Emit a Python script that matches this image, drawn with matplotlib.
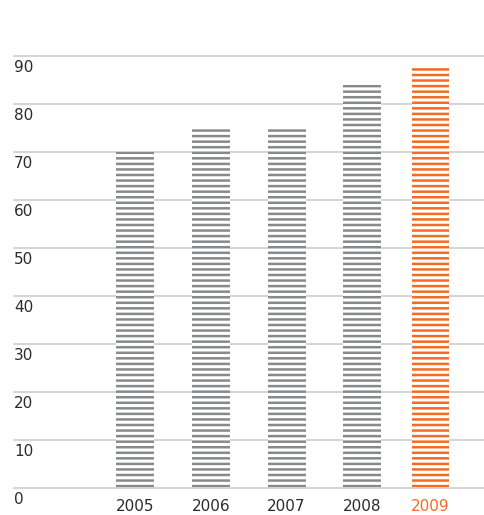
import matplotlib.pyplot as plt

years = ["2005", "2006", "2007", "2008", "2009"]
values = [70, 75, 75, 84, 88]
ticks = [0, 10, 20, 30, 40, 50, 60, 70, 80, 90]

# layout only
xpos = [0, 1, 2, 3, 3.9]
gray = "#88898b"
orange = "#f26c24"
colors = [gray, gray, gray, gray, orange]
label_colors = ["#2b2b2b"] * 4 + [orange]

plt.rcParams["hatch.linewidth"] = 1.8

fig = plt.figure(figsize=(4.85, 5.15), dpi=100)
ax = fig.add_axes([14 / 485, 1 - 488 / 515, 471 / 485, (488 - 56) / 515])
ax.set_xlim(-1.6, 4.62)
ax.set_ylim(0, 90)
ax.axis("off")

for t in ticks:
    ax.axhline(t, color="#c9c9c9", lw=1.1, zorder=1, clip_on=False)
    ax.annotate(str(t), xy=(0, t), xycoords=("axes fraction", "data"),
                xytext=(0, -3), textcoords="offset points",
                ha="left", va="top", fontsize=11, color="#2b2b2b")

for x, v, c, y, lc in zip(xpos, values, colors, years, label_colors):
    ax.bar(x, v, width=0.5, facecolor="white", edgecolor=c, hatch="---",
           linewidth=0, zorder=2)
    ax.annotate(y, xy=(x, 0), xycoords="data", xytext=(0, -8),
                textcoords="offset points", ha="center", va="top",
                fontsize=11, color=lc)

fig.savefig("out.png", dpi=100)
